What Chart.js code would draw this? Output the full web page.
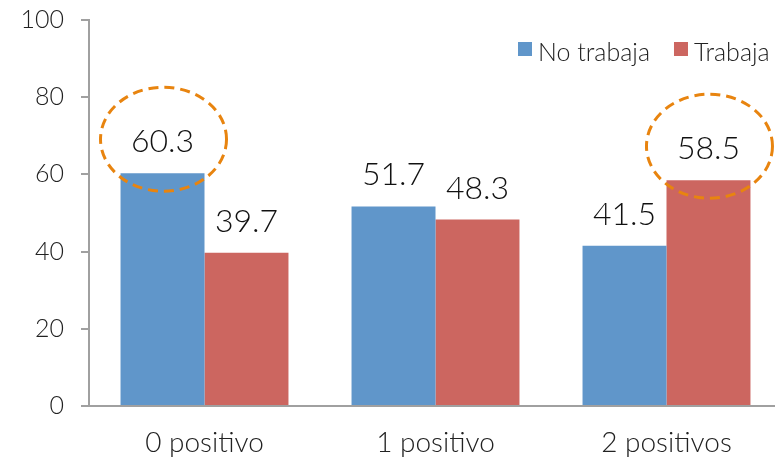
<!DOCTYPE html>
<html>
<head>
<meta charset="utf-8">
<script src="https://cdn.jsdelivr.net/npm/chart.js@4/dist/chart.umd.min.js"></script>
<style>
  html, body { margin: 0; padding: 0; background: #fff; overflow: hidden; }
  #wrap { position: relative; width: 782px; height: 477px; margin-top: -12px; }
</style>
</head>
<body>
<div id="wrap"><canvas id="chart"></canvas></div>
<script>
// data
const categories = ['0 positivo', '1 positivo', '2 positivos'];
const noTrabaja = [60.3, 51.7, 41.5];
const trabaja = [39.7, 48.3, 58.5];
const seriesNames = ['No trabaja', 'Trabaja'];
const seriesColors = ['#6096CA', '#CC6660'];
const yTicks = [0, 20, 40, 60, 80, 100];
// [datasetIndex, index] of the circled values
const highlights = [[0, 0], [1, 2]];

const FONT = 'Lato, "Open Sans", sans-serif';

// value labels above each bar + dashed ellipses round the highlighted ones
const valueLabels = {
  id: 'valueLabels',
  afterDatasetsDraw(chart) {
    const ctx = chart.ctx;
    ctx.save();
    ctx.font = '300 32px ' + FONT;
    ctx.fillStyle = '#111';
    ctx.textAlign = 'center';
    ctx.textBaseline = 'alphabetic';
    chart.data.datasets.forEach((ds, di) => {
      chart.getDatasetMeta(di).data.forEach((bar, i) => {
        ctx.fillText(ds.data[i].toFixed(1), bar.x, bar.y - 21);
      });
    });
    ctx.strokeStyle = '#E8840F';
    ctx.lineWidth = 3;
    ctx.setLineDash([10, 6]);
    highlights.forEach(([di, i]) => {
      const bar = chart.getDatasetMeta(di).data[i];
      ctx.beginPath();
      ctx.ellipse(bar.x + 1, bar.y - 34, 63, 52, 0, 0, Math.PI * 2);
      ctx.stroke();
    });
    ctx.restore();
  }
};

// legend drawn inside the plot, top right
const innerLegend = {
  id: 'innerLegend',
  afterDraw(chart) {
    const ctx = chart.ctx;
    const area = chart.chartArea;
    ctx.save();
    ctx.font = '300 25px ' + FONT;
    ctx.textBaseline = 'alphabetic';
    let x = area.right - 264;
    const y = area.top + 41;
    chart.data.datasets.forEach((ds, di) => {
      ctx.fillStyle = ds.backgroundColor;
      ctx.fillRect(x, y - 19, 14, 14);
      x += 20;
      ctx.fillStyle = '#222';
      ctx.fillText(ds.label, x, y);
      x += ctx.measureText(ds.label).width + 24;
    });
    ctx.restore();
  }
};

new Chart(document.getElementById('chart'), {
  type: 'bar',
  data: {
    labels: categories,
    datasets: [
      { label: seriesNames[0], data: noTrabaja, backgroundColor: seriesColors[0] },
      { label: seriesNames[1], data: trabaja, backgroundColor: seriesColors[1] }
    ]
  },
  options: {
    responsive: true,
    maintainAspectRatio: false,
    animation: false,
    layout: { padding: { top: 9, right: 0, left: 0, bottom: 0 } },
    datasets: { bar: { categoryPercentage: 0.727, barPercentage: 1.0 } },
    scales: {
      x: {
        grid: { display: false },
        border: { color: '#A0A0A0', width: 2 },
        ticks: { color: '#222', font: { family: FONT, size: 28, weight: '300' }, padding: 12 },
        afterFit(scale) { scale.height = 59; }
      },
      y: {
        min: 0,
        max: 100,
        afterBuildTicks(scale) { scale.ticks = yTicks.map(v => ({ value: v })); },
        grid: { drawOnChartArea: false, drawTicks: true, tickLength: 8, color: '#A0A0A0', lineWidth: 2 },
        border: { color: '#A0A0A0', width: 2 },
        ticks: { color: '#222', font: { family: FONT, size: 25, weight: '300' }, padding: 17 },
        afterFit(scale) { scale.width = 89; }
      }
    },
    plugins: {
      legend: { display: false },
      tooltip: { enabled: false }
    }
  },
  plugins: [valueLabels, innerLegend]
});
</script>
</body>
</html>
